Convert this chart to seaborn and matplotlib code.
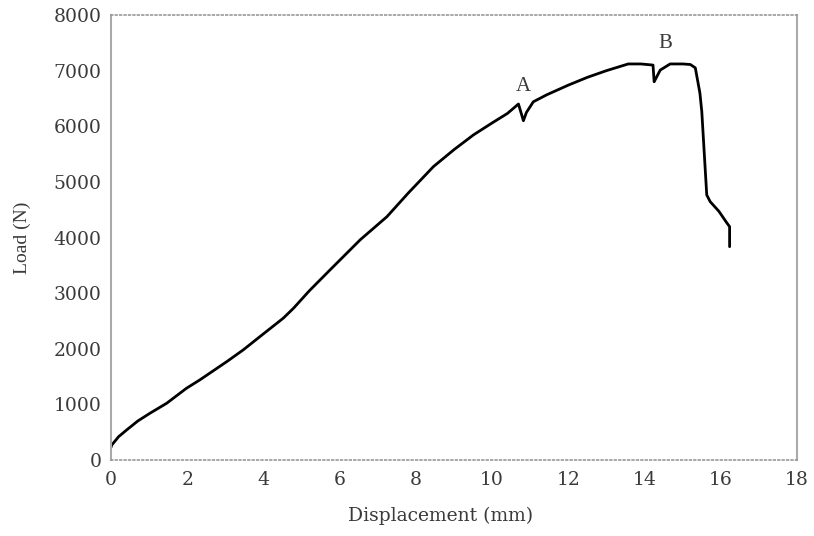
import matplotlib
matplotlib.use("Agg")
import matplotlib.pyplot as plt
import seaborn as sns
import pandas as pd

# Load-displacement curve
displacement = [0.0, 0.02, 0.2, 0.41, 0.7, 1.02, 1.46, 1.98, 2.33, 3.04, 3.47,
                3.91, 4.52, 4.79, 5.2, 5.75, 6.54, 7.24, 7.8, 8.46, 9.0, 9.51,
                10.0, 10.4, 10.69, 10.82, 10.9, 11.08, 11.43, 12.0, 12.5, 13.0,
                13.57, 13.9, 14.22, 14.25, 14.41, 14.67, 15.0, 15.2, 15.33,
                15.45, 15.5, 15.63, 15.72, 15.95, 16.16, 16.23, 16.23]
load = [230, 270, 420, 540, 700, 840, 1020, 1290, 1440, 1770, 1980,
        2220, 2550, 2730, 3040, 3420, 3960, 4375, 4800, 5275, 5580, 5845,
        6060, 6230, 6400, 6100, 6250, 6440, 6565, 6740, 6880, 7000,
        7120, 7120, 7100, 6800, 7010, 7120, 7120, 7110, 7050,
        6600, 6265, 4765, 4645, 4470, 4260, 4195, 3835]

labels = ["A", "B"]
label_x = [10.82, 14.54]
label_y = [6720, 7480]

df = pd.DataFrame({"Displacement": displacement, "Load": load})

sns.set_style("white")
plt.rcParams["font.family"] = ["DejaVu Serif"]
txt = "#3a3a3a"

fig = plt.figure(figsize=(8.14, 5.36), dpi=100)
ax = fig.add_axes([0.1364, 0.1418, 0.8428, 0.8302])

sns.lineplot(data=df, x="Displacement", y="Load", ax=ax, color="black",
             linewidth=2, sort=False, estimator=None)

for t, x, y in zip(labels, label_x, label_y):
    ax.text(x, y, t, fontsize=15, ha="center", va="center", color=txt,
            family="Liberation Serif")

ax.set_xlim(0, 18)
ax.set_ylim(0, 8000)
ax.set_xticks(range(0, 19, 2))
ax.set_yticks(range(0, 8001, 1000))
ax.set_xlabel("Displacement (mm)", fontsize=13.5, color=txt)
ax.set_ylabel("Load (N)", fontsize=14, color=txt, family="Liberation Serif",
              labelpad=16)
ax.xaxis.set_label_coords(0.48, -0.105)
ax.tick_params(axis="both", labelsize=13.5, colors=txt, direction="out",
               length=4, width=1, color="#999999")
ax.tick_params(axis="x", pad=4)
ax.tick_params(axis="y", pad=3)

for side in ["left", "right"]:
    ax.spines[side].set_color("#aaaaaa")
    ax.spines[side].set_linewidth(1.5)
for side in ["top", "bottom"]:
    ax.spines[side].set_color("#999999")
    ax.spines[side].set_linewidth(1.2)
    ax.spines[side].set_linestyle(":")

fig.savefig("out.png", dpi=100)
